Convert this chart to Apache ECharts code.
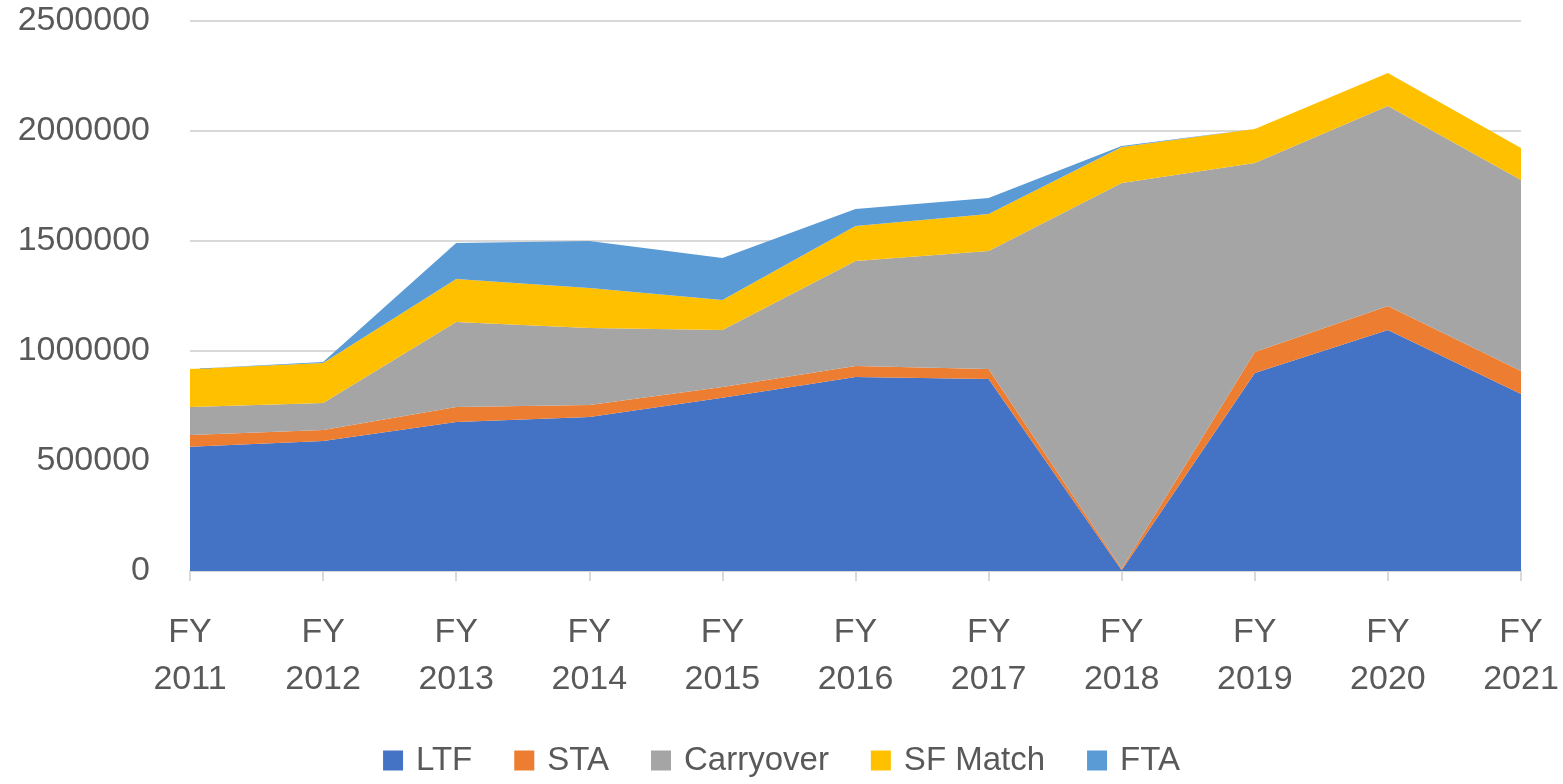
<!DOCTYPE html>
<html>
<head>
<meta charset="utf-8">
<script src="https://cdn.jsdelivr.net/npm/echarts@6/dist/echarts.min.js"></script>
<style>
  html, body { margin: 0; padding: 0; background: #fff; }
  #main { width: 1563px; height: 784px; }
</style>
</head>
<body>
<div id="main"></div>
<script>
// 年度
var years = ['FY\n2011', 'FY\n2012', 'FY\n2013', 'FY\n2014', 'FY\n2015', 'FY\n2016',
             'FY\n2017', 'FY\n2018', 'FY\n2019', 'FY\n2020', 'FY\n2021'];
// 各项数据（堆叠面积）
var ltf       = [565000, 591000, 677000, 700000, 788000, 882000, 873000, 3000, 900000, 1095000, 805000];
var sta       = [53000, 50000, 68000, 55000, 48000, 50000, 45000, 7000, 95000, 110000, 104000];
var carryover = [127000, 123000, 387000, 350000, 259000, 477000, 537000, 1754000, 860000, 909000, 868000];
var sfMatch   = [173000, 181000, 195000, 181000, 137000, 159000, 168000, 163000, 154000, 150000, 146000];
var fta       = [0, 5000, 164000, 214000, 191000, 77000, 72000, 5000, 0, 0, 0];
var yTicks    = [0, 500000, 1000000, 1500000, 2000000, 2500000];

var font = 'Liberation Sans';
var chart = echarts.init(document.getElementById('main'));

function area(name, data, color) {
  return {
    name: name,
    type: 'line',
    stack: 'total',
    data: data,
    symbol: 'none',
    lineStyle: { width: 0 },
    areaStyle: { color: color, opacity: 1 },
    itemStyle: { color: color },
    emphasis: { disabled: true }
  };
}

chart.setOption({
  animation: false,
  textStyle: { fontFamily: font },
  grid: { left: 190, right: 42, top: 21, bottom: 213, containLabel: false, outerBoundsMode: 'none' },
  legend: {
    bottom: 2,
    left: 'center',
    itemWidth: 20,
    itemHeight: 20,
    itemGap: 42,
    icon: 'rect',
    textStyle: { fontSize: 33, color: '#595959', fontFamily: font, padding: [0, 0, 0, 8] },
    data: ['LTF', 'STA', 'Carryover', 'SF Match', 'FTA']
  },
  xAxis: {
    type: 'category',
    boundaryGap: false,
    data: years,
    axisLine: { lineStyle: { color: '#d9d9d9', width: 2 } },
    axisTick: { show: true, length: 10, lineStyle: { color: '#d9d9d9', width: 2 } },
    axisLabel: { color: '#595959', fontSize: 34, lineHeight: 47, margin: 38, fontFamily: font }
  },
  yAxis: {
    type: 'value',
    min: yTicks[0],
    max: yTicks[yTicks.length - 1],
    interval: 500000,
    axisLine: { show: false },
    axisTick: { show: false },
    splitLine: { lineStyle: { color: '#d9d9d9', width: 2 } },
    axisLabel: {
      color: '#595959', fontSize: 34, margin: 40, fontFamily: font,
      formatter: function (v) { return String(v); }
    }
  },
  series: [
    area('LTF', ltf, '#4472C4'),
    area('STA', sta, '#ED7D31'),
    area('Carryover', carryover, '#A5A5A5'),
    area('SF Match', sfMatch, '#FFC000'),
    area('FTA', fta, '#5B9BD5')
  ]
});
</script>
</body>
</html>
